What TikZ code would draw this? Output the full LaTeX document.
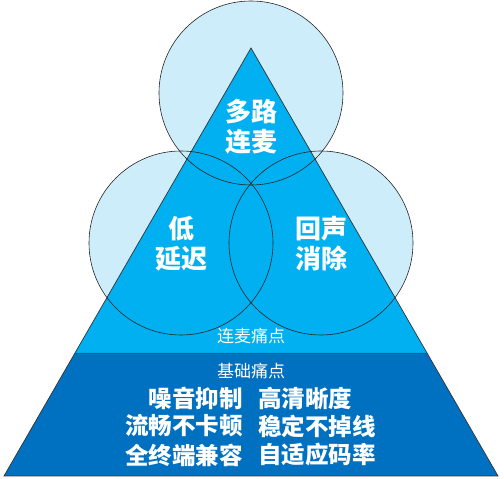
\documentclass[tikz,border=0pt]{standalone}
\usepackage{fontspec}
\usepackage{tikz}
\newfontfamily\cjk{Noto Sans CJK SC}
\definecolor{ringfill}{HTML}{CCEDF9}
\definecolor{topblue}{HTML}{00B0F0}
\definecolor{basblue}{HTML}{0070C0}
\tikzset{
  ring/.style={draw=black!85,line width=0.6pt},
  bigtag/.style={text=white,font=\cjk\bfseries\fontsize{26}{30}\selectfont,align=center,inner sep=0pt},
  smalltag/.style={text=white,font=\cjk\fontsize{17}{20}\selectfont,inner sep=0pt},
  rowtag/.style={text=white,font=\cjk\bfseries\fontsize{23.5}{28}\selectfont,inner sep=0pt}
}

\begin{document}
\begin{tikzpicture}[x=1pt,y=1pt]
\useasboundingbox (0,0) rectangle (504,479);

% circles behind the pyramid
\foreach \Point in {(251,386), (181,236), (321,236)}{
    \fill[ringfill] \Point circle[radius=92];
	}

% pyramid, upper and lower part
\fill[topblue] (251,431) -- (427,126) -- (75,126) -- cycle;
\fill[basblue] (75,126) -- (427,126) -- (498,3) -- (4,3) -- cycle;
\draw[black!80,line width=0.7pt] (251,431) -- (498,3) -- (4,3) -- cycle;
\draw[black!70,line width=0.7pt] (75,126) -- (427,126);

% circle outlines on top
\foreach \Point in {(251,386), (181,236), (321,236)}{
    \draw[ring] \Point circle[radius=92];
	}

% labels in the circles
\node[bigtag] (multi) at (251,352) {多路\\连麦};
\node[bigtag] (delay) at (181,235) {低\\延迟};
\node[bigtag] (echo) at (321,235) {回声\\消除};

\node[smalltag] (lianmai) at (251,143) {连麦痛点};
\node[smalltag] (jichu) at (251,108) {基础痛点};

% two columns of the base
\node[rowtag,anchor=east] (noise) at (243,81) {噪音抑制};
\node[rowtag,anchor=west] (clear) at (258,81) {高清晰度};
\node[rowtag,anchor=east] (smooth) at (243,53) {流畅不卡顿};
\node[rowtag,anchor=west] (stable) at (258,53) {稳定不掉线};
\node[rowtag,anchor=east] (allterm) at (243,24) {全终端兼容};
\node[rowtag,anchor=west] (adapt) at (258,24) {自适应码率};
\end{tikzpicture}
\end{document}
